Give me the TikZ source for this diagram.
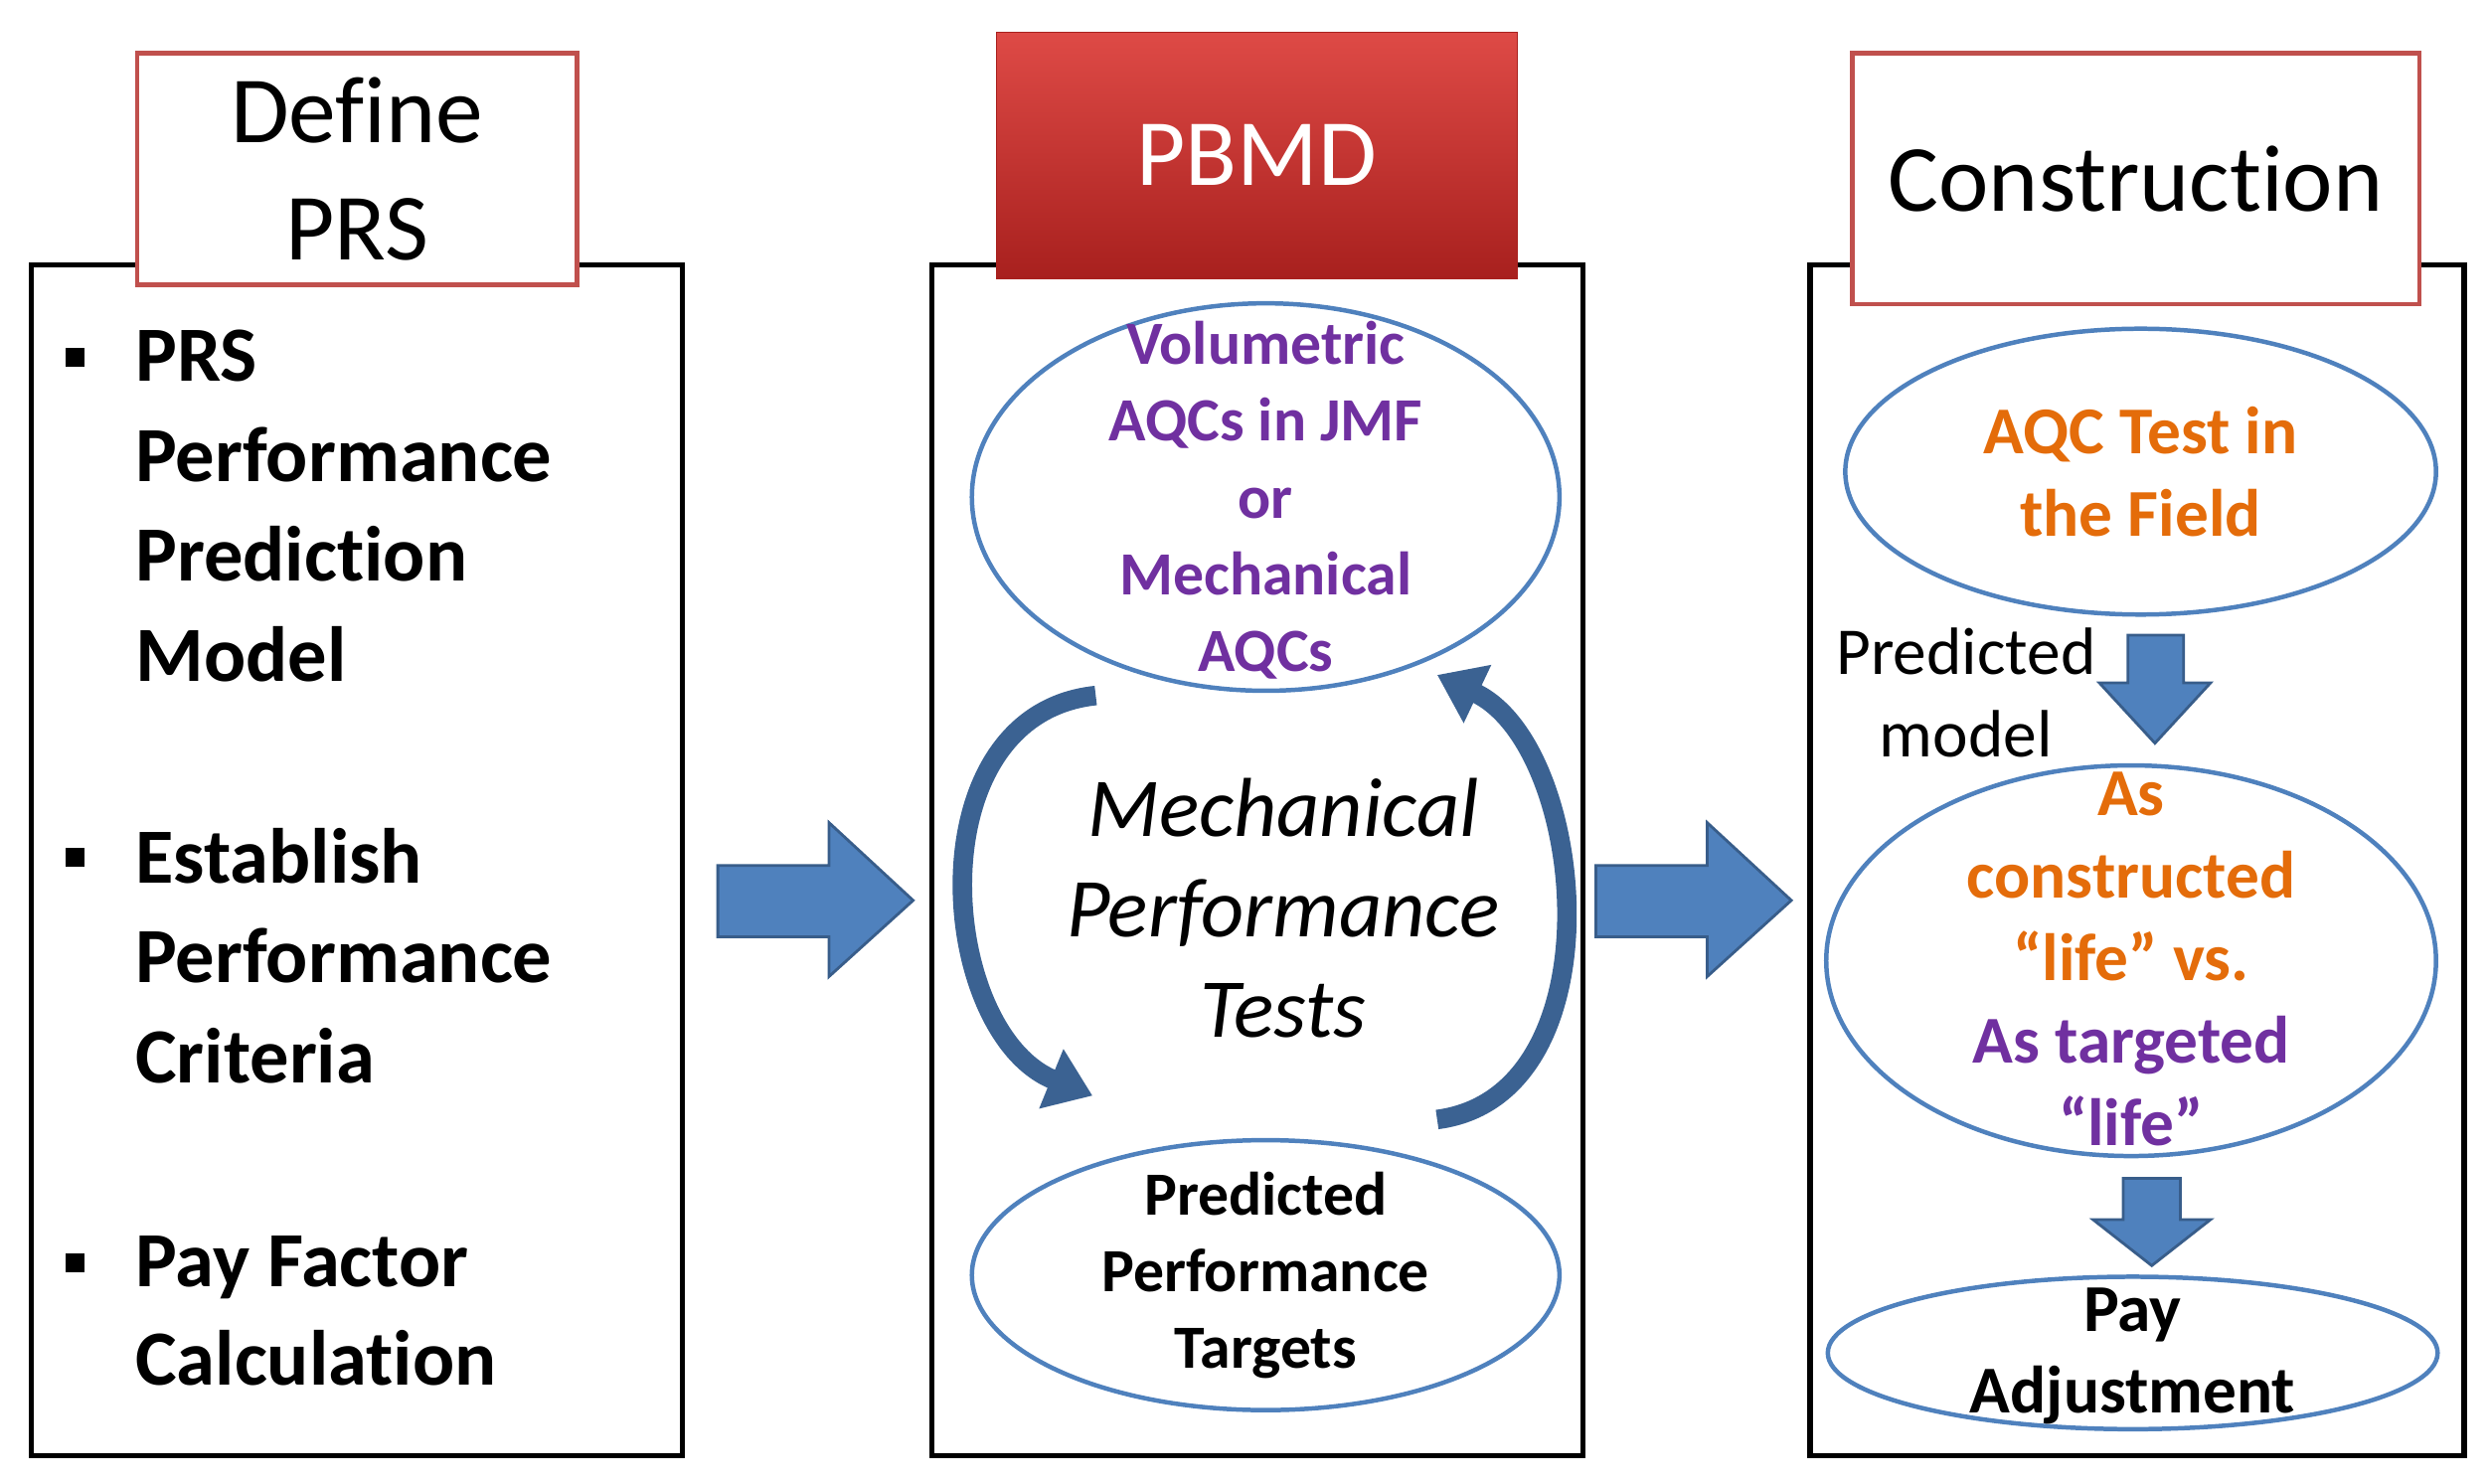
\documentclass[tikz,border=0pt]{standalone}
\usepackage{fontspec}
\setmainfont{Carlito}[RawFeature=-liga]
\usetikzlibrary{arrows.meta,shapes.geometric}
\definecolor{bl}{HTML}{4F81BD}
\definecolor{bld}{HTML}{385D8A}
\definecolor{pur}{HTML}{7030A0}
\definecolor{org}{HTML}{E46C0A}
\definecolor{rd}{HTML}{C0504D}
\definecolor{rtop}{HTML}{DE4A46}
\definecolor{rbot}{HTML}{A8201E}
\begin{document}
\begin{tikzpicture}[x=0.02cm,y=-0.02cm,
  box/.style={draw=black,line width=2pt},
  ttl/.style={draw=rd,line width=1.6pt,fill=white},
  ell/.style={draw=bl,line width=1.6pt},
  barrow/.style={fill=bl,draw=bld,line width=1pt},
  bul/.style={anchor=base west,inner sep=0pt,font=\fontsize{28}{34}\selectfont\bfseries},
  et/.style={align=center,font=\fontsize{22}{27.5}\selectfont\bfseries},
  curv/.style={draw=bld!85!bl,line width=7pt,-{Triangle[width=22pt,length=16pt]}}]
\useasboundingbox (0,0) rectangle (1568,934);
% left
\node[box,minimum width=410*0.02cm,minimum height=750*0.02cm,anchor=north west] (lbox) at (18,165) {};
\node[ttl,minimum width=277*0.02cm,minimum height=146*0.02cm,anchor=north west,align=center,font=\fontsize{34}{42}\selectfont] (lt) at (85,32) {Define\\PRS};
\foreach \y in {225,540,795}{\fill (41,\y-6) rectangle +(12,12);}
\node[bul] (b1) at (85,240) {PRS};
\node[bul] (b2) at (85,303) {Performance};
\node[bul] (b3) at (85,366) {Prediction};
\node[bul] (b4) at (85,429) {Model};
\node[bul] (b5) at (85,556) {Establish};
\node[bul] (b6) at (85,619) {Performance};
\node[bul] (b7) at (85,682) {Criteria};
\node[bul] (b8) at (85,810) {Pay Factor};
\node[bul] (b9) at (85,872) {Calculation};
% arrow 1
\draw[barrow] (452,545) -- (522,545) -- (522,518) -- (575,567) -- (522,615) -- (522,590) -- (452,590) -- cycle;
% middle
\node[box,minimum width=410*0.02cm,minimum height=750*0.02cm,anchor=north west] (mbox) at (585,165) {};
\node[draw=rbot,top color=rtop,bottom color=rbot,minimum width=328*0.02cm,minimum height=155*0.02cm,anchor=north west,text=white,font=\fontsize{34}{42}\selectfont] (mt) at (627,20) {PBMD};
\node[ell,ellipse,minimum width=370*0.02cm,minimum height=244*0.02cm] (e1) at (797,313) {};
\node[et,text=pur] (e1t) at (797,315) {Volumetric\\AQCs in JMF\\or\\Mechanical\\AQCs};
\node[align=center,font=\fontsize{30}{36}\selectfont\itshape] (mt2) at (808,572) {Mechanical\\Performance\\Tests};
\draw[curv] (690,438) .. controls (575,450) and (590,650) .. (688,690);
\draw[curv] (905,705) .. controls (1020,690) and (1000,470) .. (905,425);
\node[ell,ellipse,minimum width=370*0.02cm,minimum height=170*0.02cm] (e2) at (797,803) {};
\node[et] (e2t) at (797,803) {Predicted\\Performance\\Targets};
% arrow 2
\draw[barrow] (1005,545) -- (1075,545) -- (1075,518) -- (1128,567) -- (1075,615) -- (1075,590) -- (1005,590) -- cycle;
% right
\node[box,minimum width=412*0.02cm,minimum height=750*0.02cm,anchor=north west] (rbox) at (1138,165) {};
\node[ttl,minimum width=357*0.02cm,minimum height=158*0.02cm,anchor=north west,font=\fontsize{34}{42}\selectfont] (rt) at (1165,32) {Construction};
\node[ell,ellipse,minimum width=372*0.02cm,minimum height=180*0.02cm] (e3) at (1348,297) {};
\node[et,text=org,font=\fontsize{24}{29.5}\selectfont\bfseries] (e3t) at (1348,297) {AQC Test in\\the Field};
\node[align=center,font=\fontsize{24}{29.5}\selectfont] (pm) at (1238,436) {Predicted\\model};
\draw[barrow] (1340,400) -- (1375,400) -- (1375,430) -- (1392,430) -- (1357,468) -- (1322,430) -- (1340,430) -- cycle;
\node[ell,ellipse,minimum width=384*0.02cm,minimum height=246*0.02cm] (e4) at (1342,605) {};
\node[align=center,font=\fontsize{24}{29.5}\selectfont\bfseries] (e4t) at (1342,604) {\textcolor{org}{As}\\\textcolor{org}{constructed}\\\textcolor{org}{“life” vs.}\\\textcolor{pur}{As targeted}\\\textcolor{pur}{“life”}};
\draw[barrow] (1337,742) -- (1373,742) -- (1373,768) -- (1392,768) -- (1355,797) -- (1318,768) -- (1337,768) -- cycle;
\node[ell,ellipse,minimum width=384*0.02cm,minimum height=96*0.02cm] (e5) at (1343,852) {};
\node[align=center,font=\fontsize{24}{29.5}\selectfont\bfseries] (e5t) at (1343,854) {Pay\\Adjustment};
\end{tikzpicture}
\end{document}
